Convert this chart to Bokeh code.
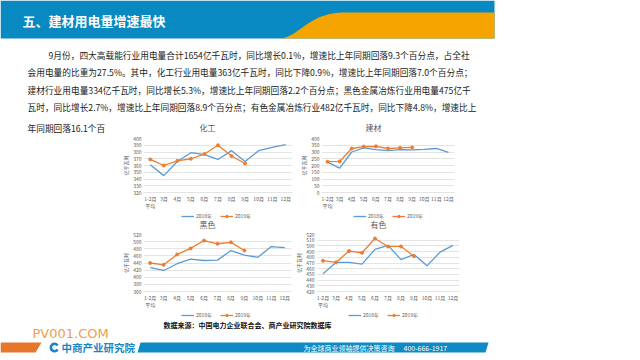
from bokeh.plotting import figure
from bokeh.models import Range1d, FactorRange, FixedTicker, Legend, LegendItem, ColumnDataSource
from bokeh.layouts import row, column
from bokeh.embed import file_html
from bokeh.resources import INLINE
import numpy as np

CJK = "Noto Sans CJK SC"
BLUE = "#5B9BD5"
ORANGE = "#ED7D31"
GREY = "#595959"

# ---------------- data ----------------
months = ["1-2月\n平均", "3月", "4月", "5月", "6月", "7月", "8月", "9月", "10月", "11月", "12月"]

huagong_2018 = [361, 345, 366, 379, 376, 369, 382, 366, 382, 387, 391]
huagong_2019 = [369, 360, 367, 370, 377, 390, 374, 363]
jiancai_2018 = [225, 180, 300, 330, 318, 310, 318, 316, 320, 326, 297]
jiancai_2019 = [228, 230, 326, 340, 342, 326, 331, 334]
heise_2018 = [427, 419, 438, 451, 447, 448, 475, 462, 456, 486, 483]
heise_2019 = [440, 435, 464, 481, 503, 494, 498, 475]
youse_2018 = [451, 471, 471, 468, 494, 501, 476, 485, 465, 489, 501]
youse_2019 = [474, 471, 491, 488, 513, 499, 499, 482]

huagong_ticks = [320, 330, 340, 350, 360, 370, 380, 390, 400]
jiancai_ticks = [0, 50, 100, 150, 200, 250, 300, 350, 400]
heise_ticks = [360, 380, 400, 420, 440, 460, 480, 500, 520]
youse_ticks = [420, 430, 440, 450, 460, 470, 480, 490, 500, 510, 520]

chart_titles = ["化工", "建材", "黑色", "有色"]
series_names = ["2018年", "2019年"]

title_text = "五、建材用电量增速最快"
para_lines = [
    "9月份，四大高载能行业用电量合计1654亿千瓦时，同比增长0.1%，增速比上年同期回落9.3个百分点，占全社",
    "会用电量的比重为27.5%。其中，化工行业用电量363亿千瓦时，同比下降0.9%，增速比上年同期回落7.0个百分点；",
    "建材行业用电量334亿千瓦时，同比增长5.3%，增速比上年同期回落2.2个百分点；黑色金属冶炼行业用电量475亿千",
    "瓦时，同比增长2.7%，增速比上年同期回落8.9个百分点；有色金属冶炼行业482亿千瓦时，同比下降4.8%，增速比上",
]
para_last = "年同期回落16.1个百"
source_text = "数据来源：中国电力企业联合会、商产业研究院数据库"
brand_text = "中商产业研究院"
slogan_text = "为全球商业领袖提供决策咨询"
phone_text = "400-666-1917"
site_text = "PV001.COM"

NAN = float("nan")


def deco_fig(w, h, x0, y0):
    p = figure(width=w, height=h, x_range=Range1d(x0, x0 + w), y_range=Range1d(y0 + h, y0),
               output_backend="svg", toolbar_location=None, tools="", min_border=0,
               x_axis_location=None, y_axis_location=None)
    p.grid.visible = False
    p.outline_line_color = None
    p.background_fill_color = "white"
    p.border_fill_color = "white"
    return p


def add_legends(p, locs):
    """Series legends (Bokeh Legend) whose renderers carry the chart series styling."""
    l18 = p.line(x=[NAN], y=[NAN], line_color=BLUE, line_width=1.3)
    l19 = p.line(x=[NAN], y=[NAN], line_color=ORANGE, line_width=1.3)
    c19 = p.scatter(x=[NAN], y=[NAN], size=3, fill_color=ORANGE, line_color=ORANGE)
    for loc in locs:
        lg = Legend(items=[LegendItem(label=series_names[0], renderers=[l18]),
                           LegendItem(label=series_names[1], renderers=[l19, c19])],
                    orientation="horizontal", location=loc,
                    label_text_font=CJK, label_text_font_size="5px", label_text_color=GREY,
                    glyph_width=13, glyph_height=6, label_height=6, label_standoff=2,
                    spacing=4, padding=0, margin=0, border_line_color=None,
                    background_fill_alpha=0)
        p.add_layout(lg, "center")


def add_titles(p, xs, y, names):
    p.text(x=xs, y=[y] * len(xs), text=names, text_font={"value": CJK}, text_font_size="8px",
           text_color=GREY, text_align="center", text_baseline="middle")


def make_chart(fw, fh, yr, yticks, s18, s19, bl, br, bt, bb):
    p = figure(frame_width=fw, frame_height=fh, x_range=FactorRange(factors=months, range_padding=0),
               y_range=Range1d(*yr), output_backend="svg", toolbar_location=None, tools="",
               min_border_left=bl, min_border_right=br, min_border_top=bt, min_border_bottom=bb)
    p.outline_line_color = None
    p.background_fill_color = "white"
    p.border_fill_color = "white"
    p.xgrid.visible = False
    p.ygrid.grid_line_color = "#D9D9D9"
    p.ygrid.grid_line_width = 0.7
    for ax in (p.xaxis[0], p.yaxis[0]):
        ax.major_tick_out = 0
        ax.major_tick_in = 0
        ax.minor_tick_out = 0
        ax.minor_tick_in = 0
        ax.major_tick_line_color = None
        ax.minor_tick_line_color = None
        ax.major_label_text_font = CJK
        ax.major_label_text_font_size = "5px"
        ax.major_label_text_color = GREY
        ax.major_label_text_line_height = 1.0
        ax.major_label_standoff = 2
    p.yaxis.ticker = FixedTicker(ticks=yticks)
    p.yaxis.axis_line_color = None
    p.yaxis.axis_label = "亿千瓦时"
    p.yaxis.axis_label_text_font = CJK
    p.yaxis.axis_label_text_font_size = "5px"
    p.yaxis.axis_label_text_font_style = "normal"
    p.yaxis.axis_label_text_color = GREY
    p.yaxis.axis_label_standoff = 1
    p.xaxis.axis_line_color = "#D9D9D9"
    p.xaxis.axis_line_width = 0.7

    src18 = ColumnDataSource(dict(x=months[:len(s18)], y=s18))
    src19 = ColumnDataSource(dict(x=months[:len(s19)], y=s19))
    p.line("x", "y", source=src18, line_color=BLUE, line_width=1.3)
    p.line("x", "y", source=src19, line_color=ORANGE, line_width=1.3)
    p.scatter("x", "y", source=src19, size=3, fill_color=ORANGE, line_color=ORANGE)
    return p


# ---------------- top: header + paragraph + first chart titles (y 0-134) ----------------
top = deco_fig(640, 134, 0, 0)
top.quad(left=0, right=494, top=0, bottom=38, fill_color="#0889C1", line_color=None)
t = np.linspace(0, 1, 30)
P0, P1, P2, P3 = (277, 38), (300, 38), (305, 12), (345, 12)
bx = (1 - t) ** 3 * P0[0] + 3 * (1 - t) ** 2 * t * P1[0] + 3 * (1 - t) * t ** 2 * P2[0] + t ** 3 * P3[0]
by = (1 - t) ** 3 * P0[1] + 3 * (1 - t) ** 2 * t * P1[1] + 3 * (1 - t) * t ** 2 * P2[1] + t ** 3 * P3[1]
top.patch(list(bx) + [494, 494], list(by) + [12, 38], fill_color="#F6A400", line_color=None)
top.text(x=[22], y=[20], text=[title_text], text_font={"value": CJK}, text_font_size="13px",
         text_font_style="bold", text_color="white", text_baseline="middle")
top.text(x=[48, 27, 27, 27, 27], y=[55, 72, 90, 107, 127.5], text=para_lines + [para_last],
         text_font={"value": CJK}, text_font_size="8.7px", text_color="#222222", text_baseline="middle")
add_titles(top, [207, 373], 127, chart_titles[:2])

# ---------------- chart row A (y 134-212) ----------------
c1 = make_chart(149, 54, (320, 400), huagong_ticks, huagong_2018, huagong_2019, 33, 0, 4, 20)
c2 = make_chart(133, 54, (0, 400), jiancai_ticks, jiancai_2018, jiancai_2019, 29, 46, 4, 20)
rowA = row(deco_fig(110, 78, 0, 134), c1, c2, deco_fig(140, 78, 500, 134), spacing=0)

# ---------------- strip: row A legends + row B titles (y 212-230) ----------------
strip = deco_fig(640, 18, 0, 212)
add_legends(strip, [(181, 11), (353, 11)])
add_titles(strip, [207, 378], 224, chart_titles[2:])

# ---------------- chart row B (y 230-311) ----------------
c3 = make_chart(148, 57, (360, 520), heise_ticks, heise_2018, heise_2019, 33, 1, 4, 20)
c4 = make_chart(143, 57, (420, 520), youse_ticks, youse_2018, youse_2019, 19, 46, 4, 20)
rowB = row(deco_fig(110, 81, 0, 230), c3, c4, deco_fig(140, 81, 500, 230), spacing=0)

# ---------------- bottom: legends, source, footer (y 311-360) ----------------
bot = deco_fig(640, 49, 0, 311)
add_legends(bot, [(181, 42), (348, 42)])
bot.text(x=[247], y=[324], text=[source_text], text_font={"value": CJK}, text_font_size="7px",
         text_font_style="bold", text_color="#111111", text_align="center", text_baseline="middle")
bot.text(x=[32], y=[333], text=[site_text], text_font={"value": "DejaVu Sans"}, text_font_size="13px",
         text_color="#F39B4B", text_baseline="middle")
bot.patch([0, 41, 35, 0], [342, 342, 352, 352], fill_color="#E5762A", line_color=None)
bot.patch([140, 488, 485, 137], [342, 342, 352, 352], fill_color="#0E8AC5", line_color=None)
bot.annular_wedge(x=[54], y=[347], inner_radius=2.2, outer_radius=5, start_angle=0.6, end_angle=5.7,
                  fill_color="#1A86C8", line_color=None)
bot.text(x=[61], y=[347], text=[brand_text], text_font={"value": CJK}, text_font_size="10.5px",
         text_font_style="bold", text_color="#1A86C8", text_baseline="middle")
bot.text(x=[303, 403], y=[347, 347], text=[slogan_text, phone_text], text_font={"value": CJK},
         text_font_size="7px", text_color="white", text_baseline="middle")

page = column(top, rowA, strip, rowB, bot, spacing=0)

open("out.html", "w").write(file_html(page, INLINE))
